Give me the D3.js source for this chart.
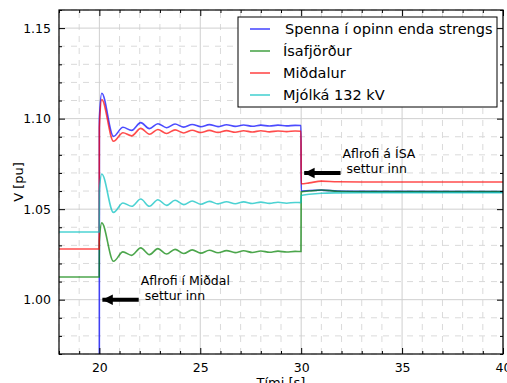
<!DOCTYPE html>
<html>
<head>
<meta charset="utf-8">
<script src="https://cdn.jsdelivr.net/npm/d3@7"></script>
<style>
  body { margin: 0; background: #fff; }
  text { font-family: "DejaVu Sans", sans-serif; fill: #000; }
</style>
</head>
<body>
<div id="chart"></div>
<script>
// time points (s), shared by every series
let time = [18, 19.99, 20.0, 20.12, 20.7, 21.17, 21.6, 22.05, 22.48, 22.9, 23.33, 23.75, 24.18, 24.6,
    25.03, 25.45, 25.88, 26.3, 26.73, 27.15, 27.58, 28.0, 28.43, 28.85, 29.28, 29.7, 29.99,
    30.0, 30.4, 31.0, 31.8, 33, 40];

let spenna = [0, 0, 1.100, 1.114, 1.0902, 1.0952, 1.0935, 1.0978, 1.0945, 1.0972, 1.0950, 1.0970, 1.0953, 1.0968,
    1.0955, 1.0967, 1.0956, 1.0966, 1.0957, 1.0965, 1.0958, 1.0964, 1.0959, 1.0964, 1.0960, 1.0963, 1.0962,
    1.060, 1.0603, 1.0605, 1.0600, 1.0598, 1.0597];

let isafjordur = [1.0125, 1.0125, 1.032, 1.0424, 1.0212, 1.0264, 1.0245, 1.0286, 1.0249, 1.0282, 1.0252, 1.0278, 1.0255, 1.0275,
    1.0257, 1.0273, 1.0259, 1.0271, 1.0260, 1.0270, 1.0261, 1.0269, 1.0262, 1.0268, 1.0263, 1.0267, 1.0266,
    1.0595, 1.0600, 1.0606, 1.0599, 1.0597, 1.0597];

let midalur = [1.028, 1.028, 1.095, 1.1105, 1.0875, 1.0922, 1.0905, 1.0946, 1.0914, 1.0940, 1.0918, 1.0938, 1.0921, 1.0936,
    1.0923, 1.0935, 1.0924, 1.0934, 1.0925, 1.0933, 1.0926, 1.0933, 1.0927, 1.0932, 1.0928, 1.0932, 1.0930,
    1.064, 1.0645, 1.0655, 1.0651, 1.065, 1.065];

let mjolka = [1.0374, 1.0374, 1.060, 1.0694, 1.0482, 1.0534, 1.0516, 1.0556, 1.0516, 1.0552, 1.0521, 1.0549, 1.0525, 1.0545,
    1.0527, 1.0543, 1.0529, 1.0541, 1.0530, 1.0540, 1.0531, 1.0539, 1.0532, 1.0538, 1.0533, 1.0537, 1.0536,
    1.0575, 1.0582, 1.0588, 1.0590, 1.0591, 1.0591];

let names = ["Spenna í opinn enda strengs", "Ísafjörður", "Miðdalur", "Mjólká 132 kV"];
let colors = ["#0000ff", "#008000", "#ff0000", "#00bfbf"];
let series = [spenna, isafjordur, midalur, mjolka];

let xTicks = [20, 25, 30, 35, 40];
let yTicks = [1.00, 1.05, 1.10, 1.15];

// annotations: text lines, arrow tip, arrow tail
let notes = [
    {lines: ["Aflrofi í Miðdal", " settur inn"], tip: [20.1, 1.0], tail: [21.95, 1.0], text: [22, 1.0]},
    {lines: ["Aflrofi á ÍSA", " settur inn"], tip: [30.1, 1.07], tail: [31.95, 1.07], text: [32, 1.07]}
];

let width = 507, height = 383;
let margin = {left: 59, right: 4, top: 10, bottom: 29};

let svg = d3.select("#chart").append("svg")
    .attr("width", width)
    .attr("height", height);

let x = d3.scaleLinear().domain([18, 40]).range([margin.left, width - margin.right]);
let y = d3.scaleLinear().domain([0.97, 1.16]).range([height - margin.bottom, margin.top]);

let x0 = x.range()[0], x1 = x.range()[1];
let y0 = y.range()[0], y1 = y.range()[1];

// minor grid (dashed)
let xMinor = d3.range(18, 40.01, 1).filter(v => v % 5 != 0);
let yMinor = d3.range(0.97, 1.1601, 0.01).filter(v => Math.abs(Math.round(v * 100) % 5) != 0);
svg.append("g").selectAll("line")
    .data(xMinor)
    .enter().append("line")
    .attr("x1", d => x(d)).attr("x2", d => x(d))
    .attr("y1", y0).attr("y2", y1)
    .attr("stroke", "#dadada").attr("stroke-dasharray", "6,6");
svg.append("g").selectAll("line")
    .data(yMinor)
    .enter().append("line")
    .attr("x1", x0).attr("x2", x1)
    .attr("y1", d => y(d)).attr("y2", d => y(d))
    .attr("stroke", "#dadada").attr("stroke-dasharray", "6,6");

// major grid
svg.append("g").selectAll("line")
    .data(xTicks)
    .enter().append("line")
    .attr("x1", d => x(d)).attr("x2", d => x(d))
    .attr("y1", y0).attr("y2", y1)
    .attr("stroke", "#cfcfcf");
svg.append("g").selectAll("line")
    .data(yTicks)
    .enter().append("line")
    .attr("x1", x0).attr("x2", x1)
    .attr("y1", d => y(d)).attr("y2", d => y(d))
    .attr("stroke", "#cfcfcf");

// clip for lines
svg.append("clipPath").attr("id", "clip")
    .append("rect")
    .attr("x", x0).attr("y", y1)
    .attr("width", x1 - x0).attr("height", y0 - y1);

let line = d3.line()
    .x(d => x(d[0]))
    .y(d => y(d[1]))
    .curve(d3.curveMonotoneX);

series.forEach(function(s, i) {
    svg.append("path")
        .datum(time.map((t, j) => [t, s[j]]))
        .attr("d", line)
        .attr("clip-path", "url(#clip)")
        .attr("fill", "none")
        .attr("stroke", colors[i])
        .attr("stroke-opacity", 0.7)
        .attr("stroke-width", 1.6);
});

// axes with inward ticks on all sides
let bottom = d3.axisBottom(x).tickValues(xTicks).tickSizeInner(-6).tickSizeOuter(0).tickPadding(9).tickFormat(d3.format("d"));
let left = d3.axisLeft(y).tickValues(yTicks).tickSizeInner(-6).tickSizeOuter(0).tickPadding(8).tickFormat(d3.format(".2f"));
svg.append("g").attr("transform", `translate(0,${y0})`).call(bottom);
svg.append("g").attr("transform", `translate(${x0},0)`).call(left);
svg.append("g").attr("transform", `translate(0,${y1})`)
    .call(d3.axisTop(x).tickValues(xTicks).tickSizeInner(-6).tickSizeOuter(0).tickFormat(""));
svg.append("g").attr("transform", `translate(${x1},0)`)
    .call(d3.axisRight(y).tickValues(yTicks).tickSizeInner(-6).tickSizeOuter(0).tickFormat(""));

// minor ticks
svg.append("g").attr("transform", `translate(0,${y0})`)
    .call(d3.axisBottom(x).tickValues(xMinor).tickSizeInner(-3).tickSizeOuter(0).tickFormat(""));
svg.append("g").attr("transform", `translate(0,${y1})`)
    .call(d3.axisTop(x).tickValues(xMinor).tickSizeInner(-3).tickSizeOuter(0).tickFormat(""));
svg.append("g").attr("transform", `translate(${x0},0)`)
    .call(d3.axisLeft(y).tickValues(yMinor).tickSizeInner(-3).tickSizeOuter(0).tickFormat(""));
svg.append("g").attr("transform", `translate(${x1},0)`)
    .call(d3.axisRight(y).tickValues(yMinor).tickSizeInner(-3).tickSizeOuter(0).tickFormat(""));

svg.selectAll(".domain").remove();
svg.selectAll(".tick text").style("font-family", "DejaVu Sans").style("font-size", "12.5px").attr("fill", "#000");

// frame
svg.append("rect")
    .attr("x", x0).attr("y", y1)
    .attr("width", x1 - x0).attr("height", y0 - y1)
    .attr("fill", "none").attr("stroke", "#000").attr("stroke-width", 1.2);

// axis labels
svg.append("text")
    .attr("x", (x0 + x1) / 2).attr("y", 387)
    .attr("text-anchor", "middle")
    .style("font-size", "13px")
    .text("Tími [s]");
svg.append("text")
    .attr("transform", `translate(23,${(y0 + y1) / 2}) rotate(-90)`)
    .attr("text-anchor", "middle")
    .style("font-size", "13px")
    .text("V [pu]");

// annotations
svg.append("defs").append("marker")
    .attr("id", "head")
    .attr("viewBox", "0 0 10 10")
    .attr("refX", 10).attr("refY", 5)
    .attr("markerWidth", 2.6).attr("markerHeight", 2.8)
    .attr("markerUnits", "strokeWidth")
    .attr("orient", "auto")
    .append("path").attr("d", "M0,0 L10,5 L0,10 Z").attr("fill", "#000");

notes.forEach(function(n) {
    svg.append("line")
        .attr("x1", x(n.tail[0])).attr("y1", y(n.tail[1]))
        .attr("x2", x(n.tip[0]) + 1).attr("y2", y(n.tip[1]))
        .attr("stroke", "#000").attr("stroke-width", 4)
        .attr("marker-end", "url(#head)");
    n.lines.forEach(function(l, k) {
        svg.append("text")
            .attr("x", x(n.text[0]) + 1)
            .attr("y", y(n.text[1]) - 15 + k * 15)
            .style("font-size", "12.5px")
            .style("white-space", "pre")
            .attr("xml:space", "preserve")
            .text(l);
    });
});

// legend
let lg = svg.append("g").attr("transform", "translate(238,17)");
lg.append("rect")
    .attr("width", 259).attr("height", 90)
    .attr("fill", "#fff").attr("stroke", "#000");
names.forEach(function(nm, i) {
    let yy = 12 + i * 22;
    lg.append("line")
        .attr("x1", 12).attr("x2", 32)
        .attr("y1", yy).attr("y2", yy)
        .attr("stroke", colors[i]).attr("stroke-opacity", 0.7).attr("stroke-width", 1.6);
    lg.append("text")
        .attr("x", i == 0 ? 47 : 45).attr("y", yy + 5)
        .style("font-size", "14.5px")
        .text(nm);
});
</script>
</body>
</html>
